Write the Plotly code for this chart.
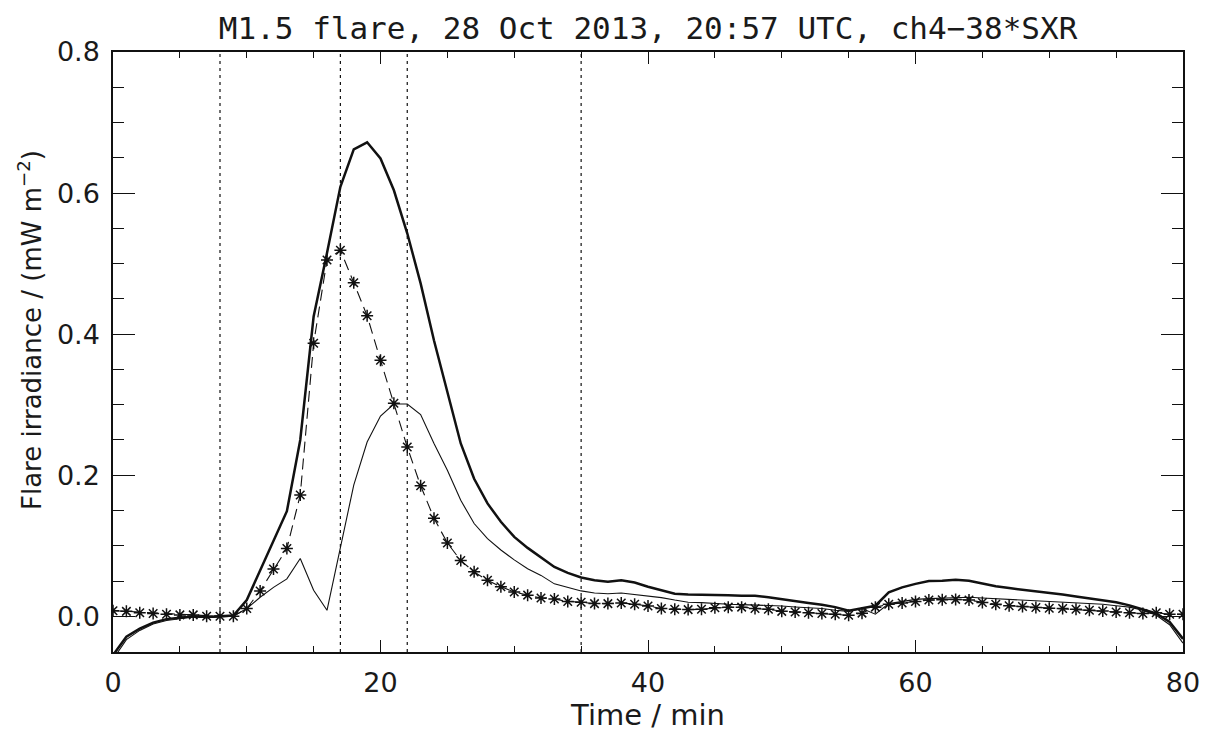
import plotly.graph_objects as go

time_min = list(range(0, 81))

flare_total = [
    -0.055, -0.029, -0.0175, -0.009, -0.004, -0.0015, 0.0, -0.001, 0.0, 0.001,
    0.023, 0.065, 0.107, 0.149, 0.25, 0.425, 0.515, 0.609, 0.662, 0.672,
    0.649, 0.604, 0.543, 0.472, 0.391, 0.32, 0.245, 0.195, 0.160, 0.134,
    0.1125, 0.097, 0.084, 0.070, 0.0615, 0.055, 0.051, 0.049, 0.051, 0.048,
    0.042, 0.037, 0.032, 0.031, 0.031, 0.031, 0.030, 0.029, 0.029, 0.027,
    0.024, 0.021, 0.019, 0.0165, 0.013, 0.008, 0.011, 0.015, 0.034, 0.041,
    0.046, 0.050, 0.0505, 0.052, 0.0505, 0.046, 0.0425, 0.040, 0.038, 0.036,
    0.034, 0.031, 0.028, 0.025, 0.023, 0.020, 0.0155, 0.0095, 0.004, -0.008,
    -0.032,
]

flare_diff = [
    -0.061, -0.033, -0.020, -0.011, -0.006, -0.003, -0.001, -0.002, -0.001, 0.0,
    0.011, 0.027, 0.041, 0.053, 0.082, 0.037, 0.0085, 0.095, 0.186, 0.247,
    0.284, 0.301, 0.301, 0.286, 0.245, 0.207, 0.1645, 0.1315, 0.110, 0.094,
    0.080, 0.0675, 0.058, 0.046, 0.041, 0.036, 0.033, 0.032, 0.033, 0.031,
    0.029, 0.0265, 0.023, 0.020, 0.0194, 0.018, 0.017, 0.0165, 0.016, 0.0156,
    0.0147, 0.0132, 0.0123, 0.011, 0.0085, 0.007, 0.011, 0.003, 0.018, 0.021,
    0.024, 0.025, 0.026, 0.027, 0.027, 0.026, 0.025, 0.024, 0.023, 0.022,
    0.021, 0.020, 0.019, 0.018, 0.017, 0.015, 0.013, 0.0085, 0.0015, -0.012,
    -0.038,
]

sxr_scaled = [
    0.008, 0.007, 0.005, 0.004, 0.003, 0.002, 0.002, 0.0, 0.0, 0.0,
    0.011, 0.036, 0.067, 0.096, 0.172, 0.387, 0.505, 0.519, 0.473, 0.426,
    0.363, 0.302, 0.240, 0.185, 0.139, 0.104, 0.079, 0.063, 0.051, 0.042,
    0.0345, 0.030, 0.026, 0.0245, 0.021, 0.020, 0.018, 0.018, 0.019, 0.017,
    0.0147, 0.011, 0.010, 0.0095, 0.010, 0.012, 0.013, 0.013, 0.011, 0.010,
    0.007, 0.006, 0.005, 0.004, 0.003, 0.0014, 0.0045, 0.013, 0.017, 0.019,
    0.021, 0.023, 0.0235, 0.024, 0.023, 0.0195, 0.017, 0.015, 0.014, 0.0125,
    0.0115, 0.011, 0.010, 0.0085, 0.0075, 0.006, 0.005, 0.004, 0.005, 0.003,
    0.003,
]

marker_times = [8, 17, 22, 35]

x_ticks = [0, 20, 40, 60, 80]
y_ticks = [0.0, 0.2, 0.4, 0.6, 0.8]

FONT = "DejaVu Sans"
FONT_W = "DejaVu Sans Mono"
INK = "#111111"
TXT = "#1a1a1a"

fig = go.Figure()

fig.add_trace(go.Scatter(
    x=time_min, y=flare_diff, mode="lines",
    line=dict(color=INK, width=1.1), showlegend=False,
))
fig.add_trace(go.Scatter(
    x=time_min, y=flare_total, mode="lines",
    line=dict(color=INK, width=2.5), showlegend=False,
))
fig.add_trace(go.Scatter(
    x=time_min, y=sxr_scaled, mode="lines+markers",
    line=dict(color=INK, width=1.1, dash="11px,6px"),
    marker=dict(symbol="asterisk-open", size=10, color=INK,
                line=dict(color=INK, width=1.5)),
    showlegend=False,
))

for t in marker_times:
    fig.add_shape(type="line", x0=t, x1=t, y0=0, y1=1, xref="x", yref="paper",
                  line=dict(color=INK, width=1.2, dash="3px,4px"), layer="above")

axis_common = dict(
    showgrid=False, zeroline=False, showline=True, linecolor=INK, linewidth=1.5,
    mirror="allticks", ticks="inside", tickcolor=INK, tickwidth=1.2,
    tickfont=dict(family=FONT, size=27, color=TXT),
)

# page is drawn with an 8px body offset, so margins are set relative to that
fig.update_layout(
    width=1210, height=739,
    paper_bgcolor="white", plot_bgcolor="white",
    margin=dict(l=105, r=35, t=44, b=95, autoexpand=False),
    title=dict(text="M1.5 flare, 28 Oct 2013, 20:57 UTC, ch4\u221238*SXR",
               x=0.529, xanchor="center", y=0.973, yanchor="middle",
               font=dict(family=FONT_W, size=31, color=TXT)),
    xaxis=dict(
        range=[0, 80], tickvals=x_ticks, ticktext=[str(v) for v in x_ticks],
        ticklen=12, automargin=False, ticklabelstandoff=6,
        minor=dict(ticks="inside", dtick=5, ticklen=6, tickcolor=INK, tickwidth=1.2),
        title=dict(text="Time / min", font=dict(family=FONT, size=29, color=TXT), standoff=7),
        **axis_common,
    ),
    yaxis=dict(
        range=[-0.0506, 0.8], tickvals=y_ticks, ticktext=[f"{v:.1f}" for v in y_ticks],
        ticklen=22, automargin=False, ticklabelstandoff=6,
        minor=dict(ticks="inside", dtick=0.05, tick0=0, ticklen=11, tickcolor=INK, tickwidth=1.2),
        **axis_common,
    ),
    annotations=[dict(
        text="Flare irradiance / (mW m<sup>\u22122</sup>)",
        textangle=-90, xref="paper", yref="paper",
        x=(22 - 105) / 1070, y=(644 - 322) / 600,
        xanchor="center", yanchor="middle", showarrow=False,
        font=dict(family=FONT, size=26, color=TXT),
    )],
)

fig.write_html("out.html")
